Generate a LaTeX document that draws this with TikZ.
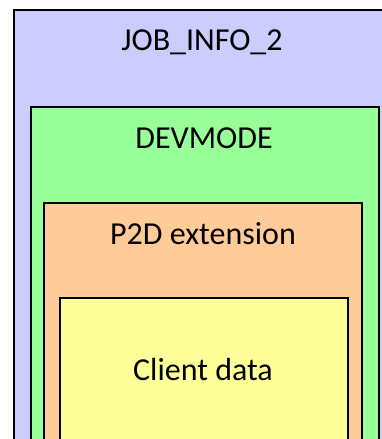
\documentclass[tikz,border=0pt]{standalone}
\usepackage{fontspec}
\setmainfont{Carlito}
\definecolor{cblue}{HTML}{CCCCFF}
\definecolor{cgreen}{HTML}{99FF99}
\definecolor{corange}{HTML}{FFCC99}
\definecolor{cyellow}{HTML}{FFFF99}
\begin{document}
\begin{tikzpicture}[x=1pt,y=-1pt,
  layer/.style={draw=black, line width=1.8pt, anchor=north west, inner sep=0pt, outer sep=0pt},
  lbl/.style={anchor=base, inner sep=0pt, font=\fontsize{32}{36}\selectfont}]
\useasboundingbox (0,0) rectangle (382,439);
\clip (0,0) rectangle (382,439);
\node[layer, fill=cblue, minimum width=400pt, minimum height=460pt] (job) at (14,10) {};
\node[layer, fill=cgreen, minimum width=348pt, minimum height=360pt] (dev) at (31,107) {};
\node[layer, fill=corange, minimum width=318pt, minimum height=260pt] (p2d) at (44,203) {};
\node[layer, fill=cyellow, minimum width=288pt, minimum height=160pt] (client) at (60,298) {};
\node[lbl] (tjob) at (202,50) {JOB\_INFO\_2};
\node[lbl] (tdev) at (204,148) {DEVMODE};
\node[lbl] (tp2d) at (203,244) {P2D extension};
\node[lbl] (tclient) at (203,380) {Client data};
\end{tikzpicture}
\end{document}
